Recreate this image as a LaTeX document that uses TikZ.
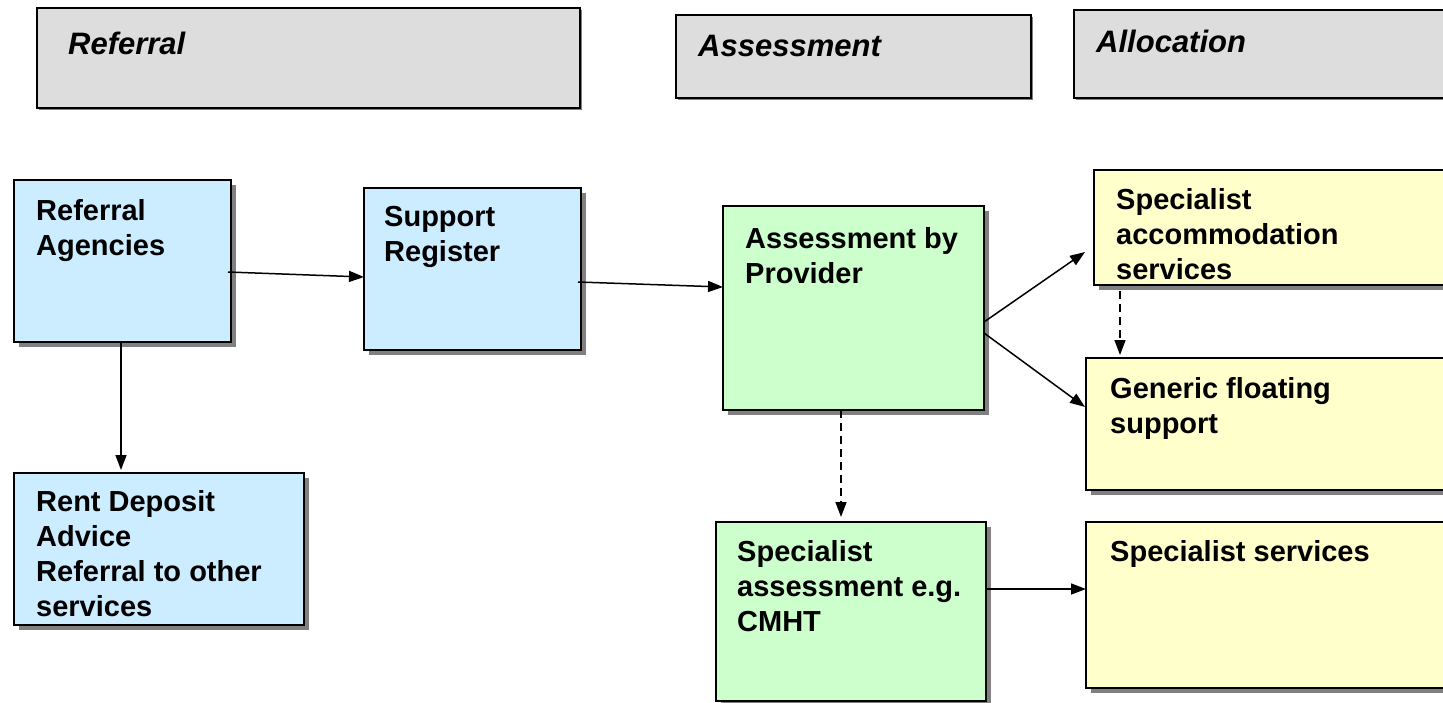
\documentclass[tikz,border=0pt]{standalone}
\usepackage{fontspec}
\setmainfont{Liberation Sans}
\usetikzlibrary{arrows.meta,shadows}
\definecolor{hdrgray}{HTML}{DDDDDD}
\definecolor{boxblue}{HTML}{CCECFF}
\definecolor{boxgreen}{HTML}{CCFFCC}
\definecolor{boxyellow}{HTML}{FFFFCC}
\definecolor{shadowgray}{HTML}{808080}
\tikzset{
  basebox/.style={draw=black, line width=2pt, anchor=north west, inner sep=0pt, outer sep=0pt},
  hdrbox/.style={basebox, fill=hdrgray, line width=1.8pt,
    general shadow={fill=shadowgray, shadow xshift=1.5pt, shadow yshift=-1.5pt}},
  flowbox/.style={basebox,
    general shadow={fill=shadowgray, shadow xshift=5pt, shadow yshift=-5pt}},
  bluebox/.style={flowbox, fill=boxblue},
  greenbox/.style={flowbox, fill=boxgreen},
  yellowbox/.style={flowbox, fill=boxyellow},
  hdrtext/.style={anchor=north west, inner sep=0pt, font=\fontsize{31}{37}\selectfont\bfseries\itshape},
  boxtext/.style={anchor=north west, inner sep=0pt, align=left, font=\fontsize{29}{35}\selectfont\bfseries},
  arr/.style={line width=1.5pt, -{Triangle[length=15pt,width=11pt]}},
  darr/.style={arr, dash pattern=on 8pt off 5pt}
}
\begin{document}
\begin{tikzpicture}[x=1pt,y=-1pt]
\useasboundingbox (0,0) rectangle (1443,702);
% headers
\node[hdrbox, minimum width=543pt, minimum height=100pt] (href) at (37,8) {};
\node[hdrtext] (threef) at (68,32) {Referral};
\node[hdrbox, minimum width=355pt, minimum height=83pt] (hass) at (676,15) {};
\node[hdrtext] (thass) at (698,35) {Assessment};
\node[hdrbox, minimum width=400pt, minimum height=88pt] (hall) at (1074,10) {};
\node[hdrtext] (thall) at (1096,30) {Allocation};
% blue boxes
\node[bluebox, minimum width=217pt, minimum height=162pt] (ra) at (14,180) {};
\node[boxtext] (tra) at (36,199) {Referral\\Agencies};
\node[bluebox, minimum width=217pt, minimum height=162pt] (sr) at (364,188) {};
\node[boxtext] (tsr) at (384,206) {Support\\Register};
\node[bluebox, minimum width=290pt, minimum height=152pt] (rd) at (14,473) {};
\node[boxtext] (trd) at (36,490) {Rent Deposit\\Advice\\Referral to other\\services};
% green boxes
\node[greenbox, minimum width=261pt, minimum height=204pt] (ap) at (723,206) {};
\node[boxtext] (tap) at (745,227) {Assessment by\\Provider};
\node[greenbox, minimum width=270pt, minimum height=179pt] (sp) at (716,522) {};
\node[boxtext] (tsp) at (737,540) {Specialist\\assessment e.g.\\CMHT};
% yellow boxes
\node[yellowbox, minimum width=400pt, minimum height=115pt] (sa) at (1094,170) {};
\node[boxtext] (tsa) at (1116,188) {Specialist\\accommodation\\services};
\node[yellowbox, minimum width=400pt, minimum height=132pt] (gf) at (1086,358) {};
\node[boxtext] (tgf) at (1110,377) {Generic floating\\support};
\node[yellowbox, minimum width=400pt, minimum height=166pt] (ss) at (1086,522) {};
\node[boxtext] (tss) at (1110,540) {Specialist services};
% connectors
\draw[arr] ([shift={(-3,92)}]ra.north east) -- ([shift={(0,89)}]sr.north west);
\draw[arr] ([shift={(-3,94)}]sr.north east) -- ([shift={(0,81)}]ap.north west);
\draw[arr] ([shift={(107,0)}]ra.south west) -- ([shift={(107,-3)}]rd.north west);
\draw[arr] ([shift={(0,116)}]ap.north east) -- ([shift={(-9,82)}]sa.north west);
\draw[arr] ([shift={(0,127)}]ap.north east) -- ([shift={(-1,49)}]gf.north west);
\draw[darr] ([shift={(118,0)}]ap.south west) -- ([shift={(125,-5)}]sp.north west);
\draw[darr] ([shift={(26,6)}]sa.south west) -- ([shift={(34,-3)}]gf.north west);
\draw[arr] ([shift={(0,67)}]sp.north east) -- ([shift={(0,67)}]ss.north west);
\end{tikzpicture}
\end{document}
